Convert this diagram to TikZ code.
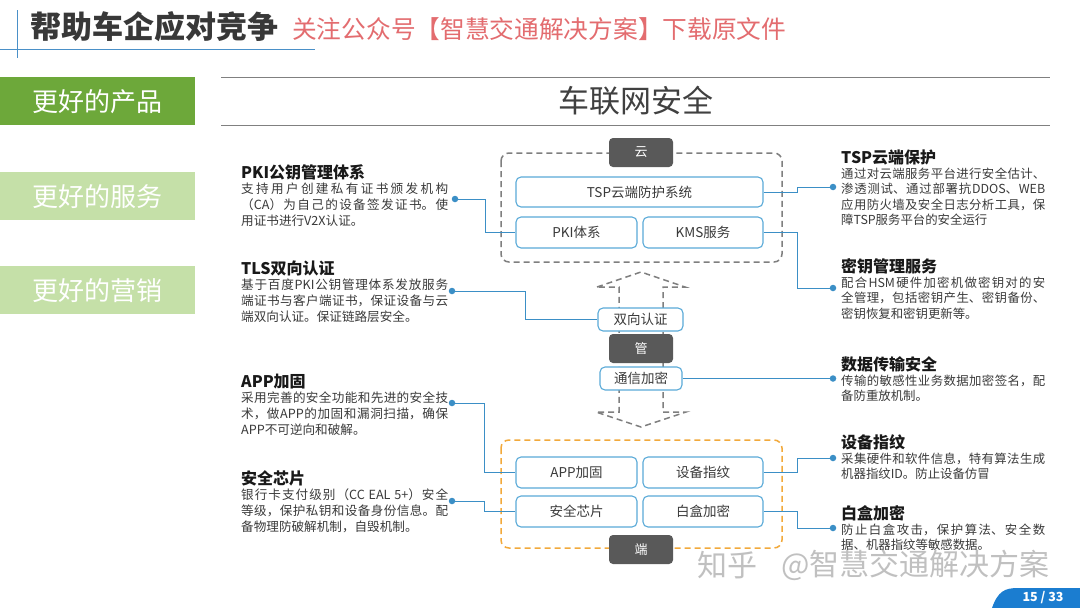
\documentclass[tikz,border=0pt]{standalone}
\usepackage{fontspec}
\setmainfont{Noto Sans CJK SC}
\XeTeXlinebreaklocale "zh"
\XeTeXlinebreakskip=0pt plus 1.5pt
\usetikzlibrary{calc}
\definecolor{tabdark}{HTML}{6DA83A}
\definecolor{tablight}{HTML}{C5E0A8}
\definecolor{boxblue}{HTML}{5AAAD8}
\definecolor{linkblue}{HTML}{3B8FC6}
\definecolor{darkbox}{HTML}{595959}
\definecolor{dashgray}{HTML}{7F7F7F}
\definecolor{dashorange}{HTML}{F2A93B}
\definecolor{txt}{HTML}{3A3A3A}
\definecolor{redtxt}{HTML}{E36C6F}
\definecolor{pageblue}{HTML}{1B7DD0}
\definecolor{hblue}{HTML}{4A90C8}
\tikzset{
  lbox/.style={draw=boxblue, line width=1.1pt, rounded corners=5pt, fill=white, text=txt,
    font=\fontsize{13.5}{14}\selectfont, inner sep=0pt},
  dbox/.style={fill=darkbox, rounded corners=4pt, text=white, font=\fontsize{13}{14}\selectfont,
    minimum width=64pt, minimum height=29pt, inner sep=0pt},
  gdash/.style={draw=dashgray, line width=1.5pt, dash pattern=on 6pt off 4pt},
  odash/.style={draw=dashorange, line width=1.5pt, dash pattern=on 6pt off 4pt, rounded corners=8pt},
  link/.style={draw=linkblue, line width=1pt},
  ldot/.style={circle, fill=linkblue, inner sep=0pt, minimum size=6.5pt},
  sectitle/.style={anchor=west, inner sep=0pt, font=\fontsize{16}{18}\selectfont\bfseries, text=black!90},
  bodyL/.style={anchor=north west, inner sep=0pt, text width=207pt, align=justify,
    font=\fontsize{12.6}{16}\selectfont\setlength\parindent{0pt}, text=txt},
  bodyR/.style={bodyL, text width=204pt, font=\fontsize{12.4}{15.2}\selectfont\setlength\parindent{0pt}},
  tab/.style={anchor=north west, minimum width=195pt, minimum height=48pt, inner sep=0pt,
    text=white, font=\fontsize{26}{28}\selectfont},
}
\begin{document}
\begin{tikzpicture}[x=1pt,y=-1pt]
\useasboundingbox (0,0) rectangle (1080,608);
\fill[white] (0,0) rectangle (1080,608);

% header
\draw[hblue, line width=0.8pt] (17,10) -- (17,58);
\draw[hblue, line width=0.8pt] (0,49) -- (315,49);
\node[anchor=west, inner sep=0pt, text=black!78, font=\fontsize{31}{33}\selectfont\bfseries] (ttl) at (30,27) {帮助车企应对竞争};
\node[anchor=west, inner sep=0pt, text=redtxt, font=\fontsize{24.7}{26}\selectfont] (red) at (292,29) {关注公众号【智慧交通解决方案】下载原文件};

% tabs
\node[tab, fill=tabdark] (t1) at (0,77) {更好的产品};
\node[tab, fill=tablight] (t2) at (0,172) {更好的服务};
\node[tab, fill=tablight] (t3) at (0,266) {更好的营销};

% section header
\draw[black!50, line width=1pt] (221,77) -- (1050,77);
\draw[black!50, line width=1pt] (221,125) -- (1050,125);
\node[inner sep=0pt, text=black!75, font=\fontsize{31}{33}\selectfont] (hd) at (636,101) {车联网安全};

% group frames
\draw[gdash, rounded corners=8pt] (501,153) rectangle (782,262);
\draw[odash] (501,440) rectangle (782,548);

% dashed double arrow
\draw[gdash] (597,287) -- (641,272) -- (685,287) -- (663,287) -- (663,412) -- (686,412) -- (641,427) -- (596,412) -- (619,412) -- (619,287) -- cycle;

% boxes
\node[dbox] (yun) at (641,152.5) {云};
\node[dbox] (guan) at (641,348.5) {管};
\node[dbox] (duan) at (641,549.5) {端};
\node[lbox, minimum width=247pt, minimum height=30pt] (tsp) at (639.5,192) {TSP云端防护系统};
\node[lbox, minimum width=121pt, minimum height=31pt] (pki) at (576.5,232.5) {PKI体系};
\node[lbox, minimum width=120pt, minimum height=31pt] (kms) at (703,232.5) {KMS服务};
\node[lbox, minimum width=85pt, minimum height=23pt] (sxrz) at (640.5,319.5) {双向认证};
\node[lbox, minimum width=82pt, minimum height=23pt] (txjm) at (641,378.5) {通信加密};
\node[lbox, minimum width=121pt, minimum height=31pt] (app) at (576.5,472.5) {APP加固};
\node[lbox, minimum width=120pt, minimum height=31pt] (sbzw) at (703,472.5) {设备指纹};
\node[lbox, minimum width=121pt, minimum height=31pt] (aqxp) at (576.5,511.5) {安全芯片};
\node[lbox, minimum width=120pt, minimum height=31pt] (bhjm) at (703,511.5) {白盒加密};

% left texts
\node[sectitle] (lt1) at (241,172) {PKI公钥管理体系};
\node[bodyL] (lb1) at (241,183) {支持用户创建私有证书颁发机构\linebreak（CA）为自己的设备签发证书。使\linebreak 用证书进行V2X认证。};
\node[sectitle] (lt2) at (241,268) {TLS双向认证};
\node[bodyL] (lb2) at (241,279) {基于百度PKI公钥管理体系发放服务\linebreak 端证书与客户端证书，保证设备与云\linebreak 端双向认证。保证链路层安全。};
\node[sectitle] (lt3) at (241,382) {APP加固};
\node[bodyL] (lb3) at (241,392) {采用完善的安全功能和先进的安全技\linebreak 术，做APP的加固和漏洞扫描，确保\linebreak APP不可逆向和破解。};
\node[sectitle] (lt4) at (241,478) {安全芯片};
\node[bodyL] (lb4) at (241,489) {银行卡支付级别（CC EAL 5+）安全\linebreak 等级，保护私钥和设备身份信息。配\linebreak 备物理防破解机制，自毁机制。};

% right texts
\node[sectitle] (rt1) at (841,157) {TSP云端保护};
\node[bodyR] (rb1) at (841,168) {通过对云端服务平台进行安全估计、\linebreak 渗透测试、通过部署抗DDOS、WEB\linebreak 应用防火墙及安全日志分析工具，保\linebreak 障TSP服务平台的安全运行};
\node[sectitle] (rt2) at (841,266) {密钥管理服务};
\node[bodyR] (rb2) at (841,277) {配合HSM硬件加密机做密钥对的安\linebreak 全管理，包括密钥产生、密钥备份、\linebreak 密钥恢复和密钥更新等。};
\node[sectitle] (rt3) at (841,364) {数据传输安全};
\node[bodyR] (rb3) at (841,375) {传输的敏感性业务数据加密签名，配\linebreak 备防重放机制。};
\node[sectitle] (rt4) at (841,442) {设备指纹};
\node[bodyR] (rb4) at (841,453) {采集硬件和软件信息，特有算法生成\linebreak 机器指纹ID。防止设备仿冒};
\node[sectitle] (rt5) at (841,513) {白盒加密};
\node[bodyR] (rb5) at (841,524) {防止白盒攻击，保护算法、安全数\linebreak 据、机器指纹等敏感数据。};

% dots
\node[ldot] (d1) at (455,199) {};
\node[ldot] (d2) at (452,291) {};
\node[ldot] (d3) at (452,403) {};
\node[ldot] (d4) at (452,501) {};
\node[ldot] (r1) at (833,187) {};
\node[ldot] (r2) at (833,288) {};
\node[ldot] (r3) at (833,378.5) {};
\node[ldot] (r4) at (833,458) {};
\node[ldot] (r5) at (833,528) {};

% connectors
\draw[link] (d1.center) -- ++(30,0) |- (pki.west);
\draw[link] (d2.center) -- ++(73,0) |- (sxrz.west);
\draw[link] (d3.center) -- ++(32,0) |- (app.west);
\draw[link] (d4.center) -- ++(32,0) |- (aqxp.west);
\draw[link] (tsp.east) -- ++(34,0) |- (r1.center);
\draw[link] (kms.east) -- ++(34,0) |- (r2.center);
\draw[link] (txjm.east) -- (r3.center);
\draw[link] (sbzw.east) -- ++(34,0) |- (r4.center);
\draw[link] (bhjm.east) -- ++(34,0) |- (r5.center);

% watermark
\node[anchor=west, inner sep=0pt, text=black!35, opacity=0.7, font=\fontsize{30}{32}\selectfont] (wm1) at (697,565) {知乎};
\node[anchor=west, inner sep=0pt, text=black!35, opacity=0.7, font=\fontsize{30}{32}\selectfont] (wm2) at (781,565) {@智慧交通解决方案};

% page tab
\fill[pageblue] (992,608) .. controls (998,591) and (1005,588) .. (1018,588) -- (1080,588) -- (1080,608) -- cycle;
\node[inner sep=0pt, text=white, font=\fontsize{12.5}{14}\selectfont\bfseries] (pg) at (1043,598) {15 / 33};
\end{tikzpicture}
\end{document}
